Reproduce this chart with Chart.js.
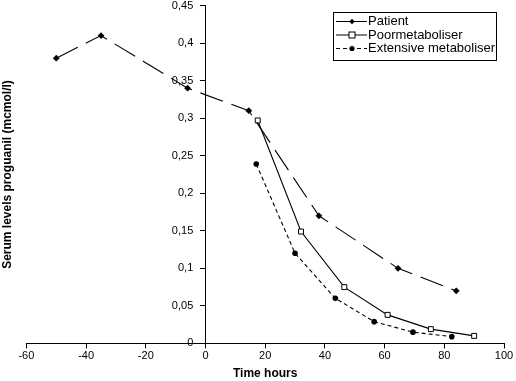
<!DOCTYPE html>
<html>
<head>
<meta charset="utf-8">
<script src="https://cdn.jsdelivr.net/npm/chart.js@4.4.1/dist/chart.umd.min.js"></script>
<style>
html,body{margin:0;padding:0;background:#fff;}
#wrap{width:516px;height:381px;position:relative;overflow:hidden;}
#c{position:absolute;left:0;top:-4px;}
</style>
</head>
<body>
<div id="wrap"><canvas id="c" width="516" height="385"></canvas></div>
<script>
// Data
const seriesNames = ["Patient", "Poormetaboliser", "Extensive metaboliser"];
const patientX = [-50, -35, -6, 14.5, 38, 64.5, 84];
const patientY = [0.38, 0.41, 0.34, 0.31, 0.17, 0.10, 0.07];
const poorX = [17.5, 32, 46.5, 61, 75.5, 90];
const poorY = [0.297, 0.149, 0.075, 0.038, 0.019, 0.010];
const extX = [17, 30, 43.5, 56.5, 69.5, 82.5];
const extY = [0.239, 0.12, 0.06, 0.029, 0.015, 0.009];
const xTicks = [-60, -40, -20, 0, 20, 40, 60, 80, 100];
const yTicks = [0, 0.05, 0.1, 0.15, 0.2, 0.25, 0.3, 0.35, 0.4, 0.45];

const pts = (xs, ys) => xs.map((x, i) => ({x: x, y: ys[i]}));
const FONT = "'Liberation Sans', Arial, Helvetica, sans-serif";
const SHIFT = 4; // canvas is placed 4px above the page top

const legendPlugin = {
  id: 'boxLegend',
  afterDraw(chart) {
    const ctx = chart.ctx;
    const bx = 333.5, by = 12.5 + SHIFT, bw = 163, bh = 48;
    ctx.save();
    ctx.fillStyle = '#fff';
    ctx.fillRect(bx, by, bw, bh);
    ctx.strokeStyle = '#000';
    ctx.lineWidth = 1;
    ctx.setLineDash([]);
    ctx.strokeRect(bx, by, bw, bh);
    const rows = [21, 34.5, 48];
    chart.data.datasets.forEach((ds, i) => {
      const y = rows[i] + 0.5 + SHIFT;
      ctx.strokeStyle = '#000';
      ctx.lineWidth = 1;
      ctx.setLineDash(i === 2 ? [4, 3] : []);
      ctx.beginPath();
      ctx.moveTo(336, y);
      ctx.lineTo(367, y);
      ctx.stroke();
      ctx.setLineDash([]);
      const mx = 352;
      if (ds.pointStyle === 'rect') {
        ctx.fillStyle = '#fff';
        ctx.fillRect(mx - 3, y - 3, 6, 6);
        ctx.strokeRect(mx - 3, y - 3, 6, 6);
      } else if (ds.pointStyle === 'rectRot') {
        ctx.fillStyle = '#000';
        ctx.beginPath();
        ctx.moveTo(mx, y - 2.8); ctx.lineTo(mx + 2.8, y); ctx.lineTo(mx, y + 2.8); ctx.lineTo(mx - 2.8, y);
        ctx.closePath(); ctx.fill();
      } else {
        ctx.fillStyle = '#000';
        ctx.beginPath(); ctx.arc(mx, y, 2.6, 0, Math.PI * 2); ctx.fill();
      }
      ctx.fillStyle = '#000';
      ctx.font = '13px ' + FONT;
      ctx.textBaseline = 'middle';
      ctx.textAlign = 'left';
      ctx.fillText(ds.label, 368, y);
    });
    ctx.restore();
  }
};

new Chart(document.getElementById('c'), {
  type: 'scatter',
  data: {
    datasets: [
      {
        label: seriesNames[0],
        data: pts(patientX, patientY),
        showLine: true,
        borderColor: '#000',
        backgroundColor: '#000',
        borderWidth: 1.1,
        borderDash: [24, 9],
        pointStyle: 'rectRot',
        pointRadius: 3.4,
        pointBorderWidth: 0,
        pointBackgroundColor: '#000',
        yAxisID: 'y'
      },
      {
        label: seriesNames[1],
        data: pts(poorX, poorY),
        showLine: true,
        borderColor: '#000',
        backgroundColor: '#fff',
        borderWidth: 1.1,
        pointStyle: 'rect',
        pointRadius: 3.5,
        pointBorderWidth: 1,
        pointBackgroundColor: '#fff',
        pointBorderColor: '#000',
        yAxisID: 'y'
      },
      {
        label: seriesNames[2],
        data: pts(extX, extY),
        showLine: true,
        borderColor: '#000',
        backgroundColor: '#000',
        borderWidth: 1.1,
        borderDash: [4, 3],
        pointStyle: 'circle',
        pointRadius: 2.8,
        pointBorderWidth: 0,
        pointBackgroundColor: '#000',
        yAxisID: 'y'
      }
    ]
  },
  options: {
    responsive: false,
    animation: false,
    layout: {autoPadding: false, padding: {left: 0, right: 12, top: 1, bottom: 0}},
    plugins: {legend: {display: false}, tooltip: {enabled: false}},
    scales: {
      x: {
        type: 'linear',
        min: -60, max: 100,
        afterBuildTicks: (s) => { s.ticks = xTicks.map(v => ({value: v})); },
        grid: {display: true, drawOnChartArea: false, drawTicks: true, tickLength: 5, color: '#000', lineWidth: 1},
        border: {display: true, color: '#000', width: 1},
        ticks: {color: '#000', font: {family: FONT, size: 11}, padding: 1, maxRotation: 0},
        title: {display: true, text: 'Time hours', color: '#000', font: {family: FONT, size: 12, weight: 'bold'}, padding: {top: 3, bottom: 0}}
      },
      y: {
        type: 'linear',
        position: {x: 0},
        min: 0, max: 0.45,
        afterBuildTicks: (s) => { s.ticks = yTicks.map(v => ({value: v})); },
        grid: {display: true, drawOnChartArea: false, drawTicks: true, tickLength: 5, color: '#000', lineWidth: 1},
        border: {display: true, color: '#000', width: 1},
        ticks: {
          color: '#000', font: {family: FONT, size: 11}, padding: 3,
          callback: (v) => String(+v.toFixed(2)).replace('.', ',') + '    '
        }
      },
      yTitle: {
        type: 'linear',
        position: 'left',
        display: true,
        grid: {display: false, drawTicks: false},
        border: {display: false},
        ticks: {display: false},
        title: {display: true, text: 'Serum levels proguanil (mcmol/l)', color: '#000', font: {family: FONT, size: 12, weight: 'bold'}, padding: {top: 0, bottom: 12}}
      }
    }
  },
  plugins: [legendPlugin]
});
</script>
</body>
</html>
